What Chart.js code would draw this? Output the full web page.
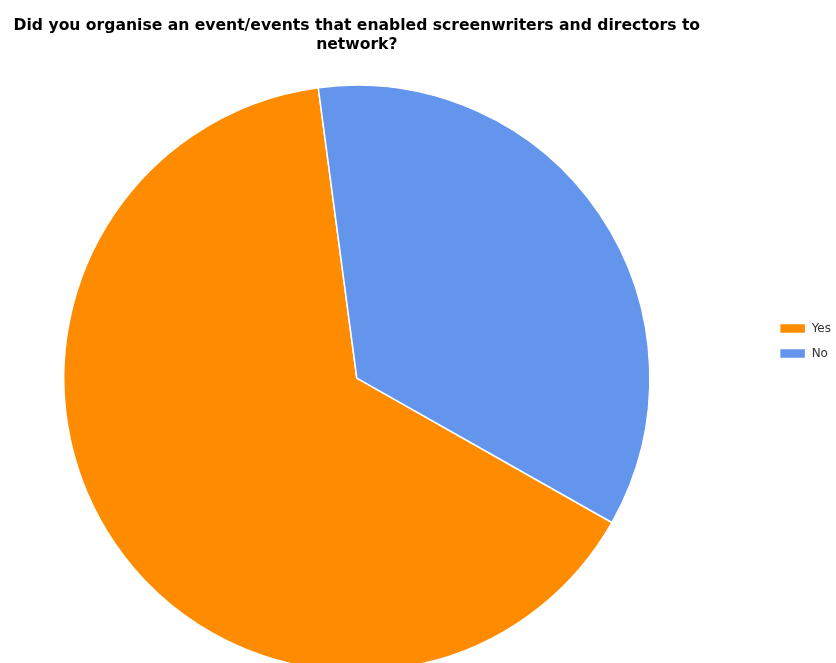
<!DOCTYPE html>
<html>
<head>
<meta charset="utf-8">
<script src="https://cdn.jsdelivr.net/npm/chart.js@4"></script>
<style>
  html, body { margin: 0; padding: 0; background: #fff; }
  #wrap { width: 836px; height: 663px; overflow: hidden; position: relative; }
  /* canvas pushed left so the pie sits where the reference has it */
  #pieChart { position: absolute; left: -53px; top: 0; }
</style>
</head>
<body>
<div id="wrap">
  <canvas id="pieChart" width="901" height="672"></canvas>
</div>
<script>
const titleLines = ['Did you organise an event/events that enabled screenwriters and directors to', 'network?'];
const categories = ['Yes', 'No'];
const counts = [11, 6];
const sliceColors = ['#ff8c00', '#6495ed'];

document.addEventListener('DOMContentLoaded', function () {
    const ctx = document.getElementById('pieChart').getContext('2d');
    new Chart(ctx, {
        type: 'pie',
        data: {
            labels: categories,
            datasets: [{
                data: counts,
                backgroundColor: sliceColors,
                borderColor: '#ffffff',
                borderWidth: 1.5
            }]
        },
        options: {
            responsive: false,
            animation: false,
            rotation: 119.5,
            layout: {
                padding: { left: 0, right: 7, top: 10, bottom: 0 }
            },
            plugins: {
                title: {
                    display: true,
                    text: titleLines,
                    fullSize: false,
                    color: '#000',
                    font: { family: 'DejaVu Sans, sans-serif', size: 15.6, weight: 'bold', lineHeight: 1.23 },
                    padding: { top: 6, bottom: 30 }
                },
                legend: {
                    position: 'right',
                    labels: {
                        boxWidth: 26,
                        boxHeight: 10,
                        padding: 13,
                        color: '#333',
                        font: { family: 'DejaVu Sans, sans-serif', size: 12 }
                    }
                },
                tooltip: { enabled: false }
            }
        }
    });
});
</script>
</body>
</html>
